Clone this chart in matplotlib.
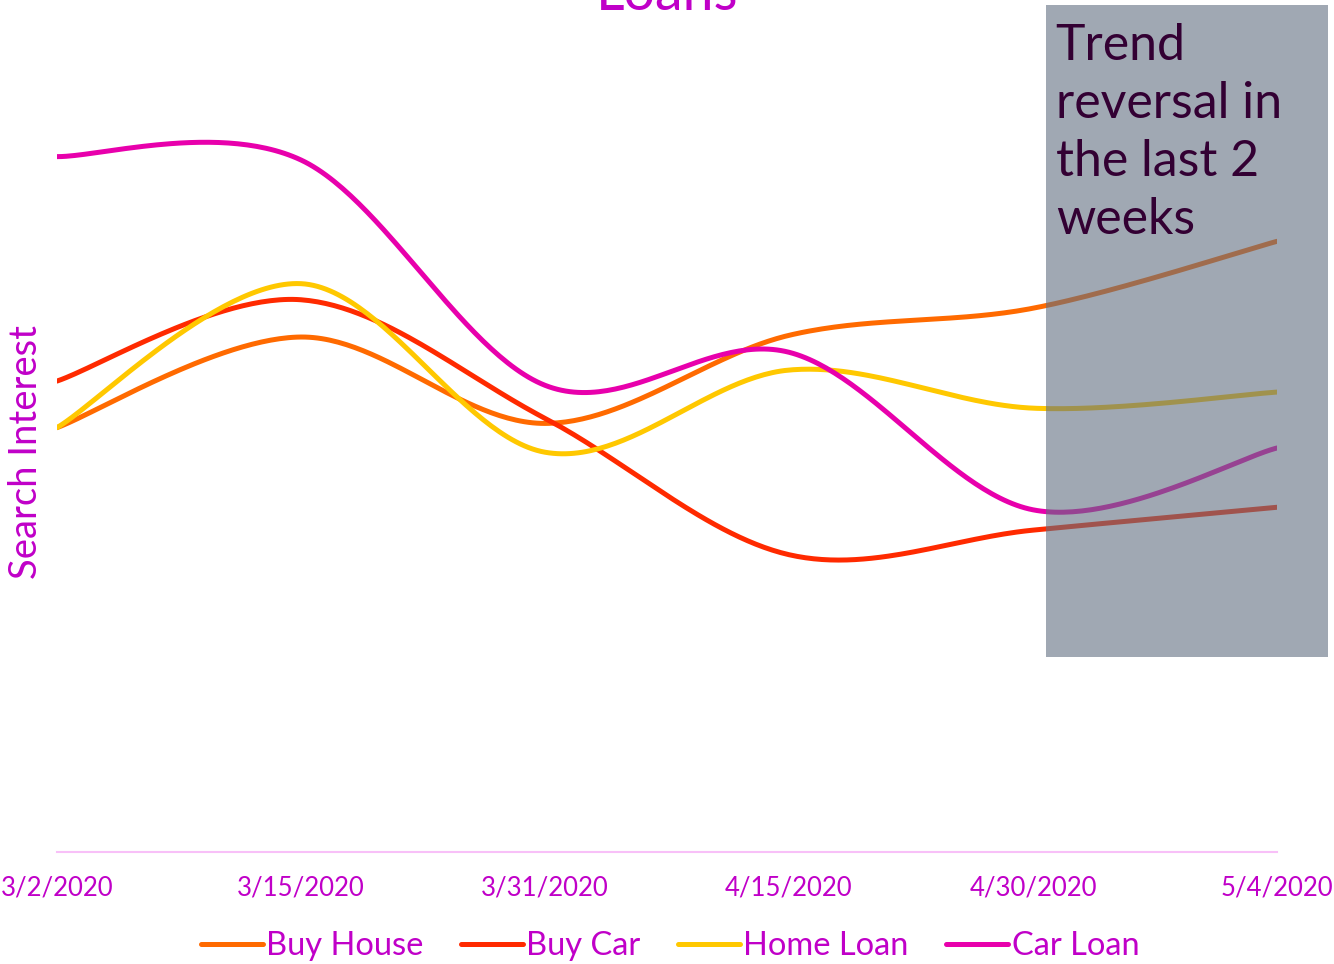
import numpy as np
import matplotlib
matplotlib.use("Agg")
import matplotlib.pyplot as plt
from matplotlib.patches import Rectangle
from matplotlib.lines import Line2D

plt.rcParams['font.family'] = ['Lato', 'DejaVu Sans']

dates = ["3/2/2020", "3/15/2020", "3/31/2020", "4/15/2020", "4/30/2020", "5/4/2020"]
buy_house = [50.1, 60.8, 50.6, 61.0, 64.2, 72.1]
buy_car = [55.6, 65.2, 51.2, 35.1, 38.0, 40.7]
home_loan = [50.1, 67.1, 47.2, 56.9, 52.4, 54.3]
car_loan = [82.1, 81.7, 55.1, 59.0, 40.4, 47.7]

series_names = ["Buy House", "Buy Car", "Home Loan", "Car Loan"]
series_values = [buy_house, buy_car, home_loan, car_loan]
colors = ["#FF6A00", "#FF2A00", "#FFC800", "#E800AC"]

TXT = "#C000C8"


def smooth(xs, ys, n=60):
    pts = np.column_stack([xs, ys]).astype(float)
    ext = np.vstack([pts[0], pts, pts[-1]])
    out = []
    for i in range(len(pts) - 1):
        p0, p1, p2, p3 = ext[i], ext[i + 1], ext[i + 2], ext[i + 3]
        c1 = p1 + (p2 - p0) / 6.0
        c2 = p2 - (p3 - p1) / 6.0
        t = np.linspace(0, 1, n)[:, None]
        b = ((1 - t) ** 3) * p1 + 3 * ((1 - t) ** 2) * t * c1 + 3 * (1 - t) * t ** 2 * c2 + t ** 3 * p2
        out.append(b if i == 0 else b[1:])
    out = np.vstack(out)
    return out[:, 0], out[:, 1]


fig = plt.figure(figsize=(13.34, 9.64), dpi=100)
ax = fig.add_axes([57 / 1334, 1 - 852 / 964, (1277 - 57) / 1334, (852 - 5) / 964])

x = np.arange(len(dates))
for name, vals, c in zip(series_names, series_values, colors):
    sx, sy = smooth(x, vals)
    ax.plot(sx, sy, color=c, lw=3.6, solid_capstyle='round', label=name, zorder=2)

ax.set_xlim(0, len(dates) - 1)
ax.set_ylim(0, 100)

# shaded region for last two weeks
rect = Rectangle((4.053, 23.0), 1.156, 77.0, facecolor="#616F81", alpha=0.6,
                 edgecolor='none', clip_on=False, zorder=3)
ax.add_patch(rect)
ax.text(4.093, 97.9, "Trend\nreversal in\nthe last 2\nweeks", color="#330033",
        fontsize=36, va='top', ha='left', linespacing=1.33, zorder=4)

for s in ['top', 'right', 'left']:
    ax.spines[s].set_visible(False)
ax.spines['bottom'].set_color("#F8C0F8")
ax.spines['bottom'].set_linewidth(1.5)
ax.set_yticks([])
ax.set_xticks(x)
ax.set_xticklabels(dates, color=TXT, fontsize=18.5)
ax.tick_params(axis='x', length=0, pad=17)

ax.set_ylabel("Search Interest", color=TXT, fontsize=27.5)
ax.yaxis.set_label_coords(-0.0107, 0.4717)

fig.text(667 / 1334, 1 - 10 / 964, "Loans", color=TXT, fontsize=40, ha='center', va='baseline')

handles = [Line2D([0], [0], color=c, lw=3.6, solid_capstyle='round') for c in colors]
leg = fig.legend(handles, series_names, loc='center', bbox_to_anchor=(670 / 1334, 1 - 946 / 964),
                 ncol=4, frameon=False, fontsize=23.5, handlelength=1.9, handletextpad=0.1,
                 columnspacing=1.15)
for t in leg.get_texts():
    t.set_color(TXT)

fig.savefig("out.png", dpi=100)
